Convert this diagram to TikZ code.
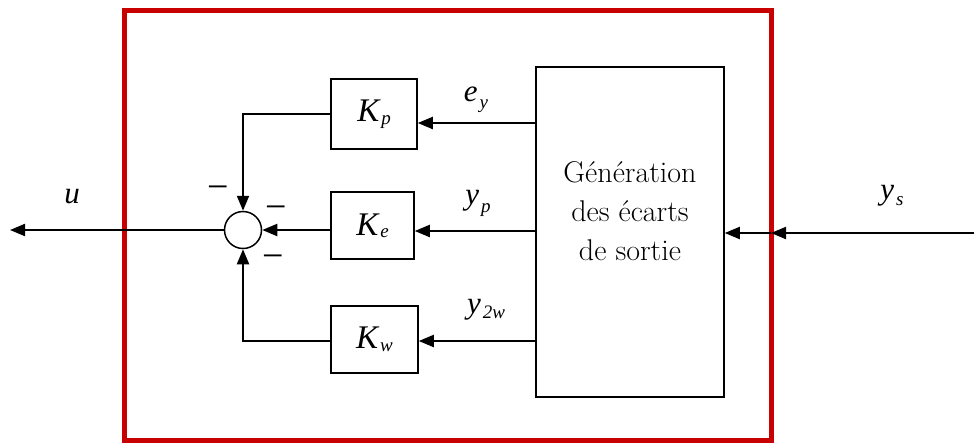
\documentclass[tikz,border=0pt]{standalone}
\usepackage{fontspec}
\usetikzlibrary{arrows.meta}
\newfontfamily\tms{Liberation Serif}
\definecolor{frame}{RGB}{200,0,0}
\newcommand{\withsub}[3]{#1\kern2pt\raisebox{-#3}{\fontsize{19}{19}\selectfont #2}}
\begin{document}
\begin{tikzpicture}[x=1pt,y=-1pt,
  blk/.style={draw, line width=1.5pt, inner sep=0pt, font=\tms\itshape\fontsize{33}{33}\selectfont},
  arr/.style={line width=2pt, -{Triangle[length=15pt,width=12pt]}},
  ln/.style={line width=2pt},
  lbl/.style={inner sep=0pt, font=\tms\itshape\fontsize{31}{31}\selectfont},
  mns/.style={inner sep=0pt, font=\tms\fontsize{38}{38}\selectfont}]
\useasboundingbox (0,0) rectangle (974,445);
% frame
\draw[frame, line width=5pt] (124,10) rectangle (771,440);
% blocks
\node[draw, line width=1.5pt, minimum width=188pt, minimum height=330pt] (gen) at (630,232) {};
\node[align=center, inner sep=0pt, font=\fontsize{30}{39}\selectfont\addfontfeatures{FakeStretch=1.1}] (gentxt) at (630,211) {Génération\\des écarts\\de sortie};
\node[blk, minimum width=86pt, minimum height=70pt] (Kp) at (374,114) {\withsub{K}{p}{3pt}};
\node[blk, minimum width=83pt, minimum height=67pt] (Ke) at (372.5,225.5) {\withsub{K}{e}{2pt}};
\node[blk, minimum width=87pt, minimum height=67pt] (Kw) at (374.5,339.5) {\withsub{K}{w}{3pt}};
\node[draw, circle, line width=1.5pt, minimum size=37pt, inner sep=0pt] (sum) at (243,230) {};
% coordinates
\coordinate (uend) at (10,230);
\coordinate (ysin) at (974,233);
\coordinate (redpt) at (771,233);
% connectors
\draw[arr] (gen.west |- 0,123) -- (Kp.east |- 0,123);
\draw[arr] (gen.west |- 0,231) -- (Ke.east |- 0,231);
\draw[arr] (gen.west |- 0,341) -- (Kw.east |- 0,341);
\draw[arr] (Kp.west) -| (sum.north);
\draw[arr] (Ke.west |- sum) -- (sum.east);
\draw[arr] (Kw.west |- 0,341) -| (sum.south);
\draw[arr] (sum.west) -- (uend);
\draw[arr] (ysin) -- (redpt);
\draw[arr] (redpt) -- (gen.east |- redpt);
% labels
\node[lbl] (lu) at (72,197) {u};
\node[lbl] (ley) at (476,100) {\withsub{e}{y}{7pt}};
\node[lbl] (lyp) at (478,203) {\withsub{y}{p}{8pt}};
\node[lbl] (ly2w) at (486,310) {\withsub{y}{2w}{5pt}};
\node[lbl] (lys) at (892,196) {\withsub{y}{s}{6pt}};
\node[mns] (m1) at (218,193) {−};
\node[mns] (m2) at (276,213) {−};
\node[mns] (m3) at (273,262) {−};
\end{tikzpicture}
\end{document}
